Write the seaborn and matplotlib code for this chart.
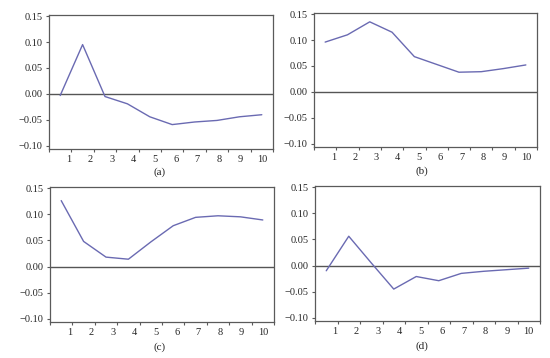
import numpy as np
import pandas as pd
import matplotlib
matplotlib.use('Agg')
import matplotlib.pyplot as plt
import seaborn as sns

periods = list(range(1, 11))
resp_a = [-0.003, 0.095, -0.005, -0.019, -0.044, -0.059, -0.054, -0.051, -0.044, -0.040]
resp_b = [0.096, 0.110, 0.135, 0.115, 0.068, 0.053, 0.038, 0.039, 0.045, 0.052]
resp_c = [0.126, 0.048, 0.018, 0.014, 0.047, 0.078, 0.094, 0.097, 0.095, 0.089]
resp_d = [-0.010, 0.056, 0.005, -0.045, -0.021, -0.029, -0.015, -0.011, -0.008, -0.005]
captions = ['(a)', '(b)', '(c)', '(d)']
yticks = [-0.10, -0.05, 0.00, 0.05, 0.10, 0.15]

sns.set_theme(style='ticks')
plt.rcParams['font.family'] = ['Liberation Serif', 'DejaVu Serif']

W, H = 550, 358
fig = plt.figure(figsize=(5.5, 3.58), dpi=100)

# panel boxes in pixels: left, top, right, bottom
boxes = [(49, 15, 273, 149), (314, 13, 537, 147),
         (50, 187, 274, 322), (315, 186, 540, 321)]
cap_pos = [(160, 172), (422, 171), (160, 347), (422, 346)]
series = [resp_a, resp_b, resp_c, resp_d]

line_col = '#6a6ab2'
frame_col = '#5a5a5a'

for (l, t, r, b), vals, cap, (cx, cy) in zip(boxes, series, captions, cap_pos):
    ax = fig.add_axes([l / W, 1 - b / H, (r - l) / W, (b - t) / H])
    df = pd.DataFrame({'period': periods, 'resp': vals})
    sns.lineplot(data=df, x='period', y='resp', ax=ax, color=line_col, lw=1.0)
    ax.axhline(0, color='#555555', lw=1.0, zorder=1)
    ax.set_xlim(0.5, 10.5)
    ax.set_ylim(-0.106, 0.152)
    ax.set_yticks(yticks)
    ax.set_yticklabels([f'{v:.2f}'.replace('-', '\u2212') for v in yticks])
    # tick marks between periods, labels placed separately
    ax.set_xticks(np.arange(0.5, 11, 1.0))
    ax.set_xticklabels([])
    ax.set_xticks(np.linspace(1.38, 10.0, 10), minor=True)
    ax.set_xticklabels([str(p) for p in periods], minor=True)
    ax.tick_params(axis='x', which='major', length=2.5, width=0.8, color=frame_col)
    ax.tick_params(axis='x', which='minor', length=0, pad=4, labelsize=7.5)
    ax.tick_params(axis='y', length=2.5, width=0.8, color=frame_col, pad=2, labelsize=7.5)
    ax.set_xlabel('')
    ax.set_ylabel('')
    for s in ax.spines.values():
        s.set_visible(True)
        s.set_color(frame_col)
        s.set_linewidth(0.9)
    fig.text(cx / W, 1 - cy / H, cap, ha='center', va='center', fontsize=8)

fig.savefig('out.png', dpi=100)
